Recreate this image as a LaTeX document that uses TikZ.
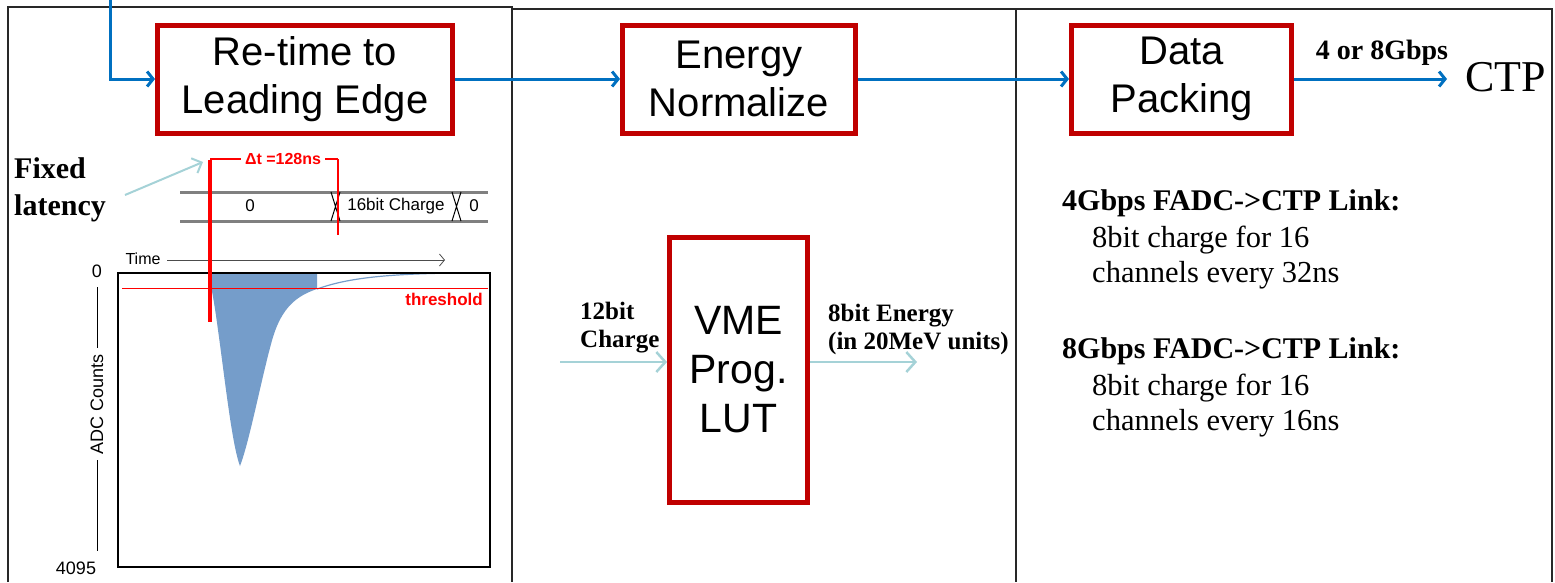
\documentclass[tikz,border=0pt]{standalone}
\usepackage{fontspec}
\setmainfont{Liberation Serif}
\setsansfont{Liberation Sans}
\usetikzlibrary{arrows.meta}
\definecolor{flowblue}{RGB}{0,112,192}
\definecolor{boxred}{RGB}{192,0,0}
\definecolor{hintteal}{RGB}{165,210,215}
\definecolor{pulseblue}{RGB}{117,157,202}
\definecolor{tred}{RGB}{255,0,0}
\definecolor{busgray}{RGB}{128,128,128}
\definecolor{panelgray}{RGB}{40,40,40}
\begin{document}
\begin{tikzpicture}[x=1pt,y=-1pt,
  blockbox/.style={draw=boxred,line width=5pt,fill=white,align=center,inner sep=0pt,
    font=\sffamily\fontsize{40}{48}\selectfont},
  flow/.style={draw=flowblue,line width=3pt,-{Straight Barb[length=6pt,width=15pt]}},
  hint/.style={draw=hintteal,line width=2.5pt,-{Straight Barb[length=9pt,width=20pt]}},
  panel/.style={draw=panelgray,line width=1.5pt},
  serifbold/.style={font=\bfseries\fontsize{25}{28}\selectfont,align=left,inner sep=0pt},
  linktext/.style={anchor=base west,inner sep=0pt,font=\fontsize{30.5}{36}\selectfont},
  linkhead/.style={linktext,font=\bfseries\fontsize{30}{36}\selectfont},
  smallsans/.style={inner sep=0pt,font=\sffamily\fontsize{17}{20}\selectfont},
  redmark/.style={draw=tred}
]
\useasboundingbox (0,0) rectangle (1555,582);

% panels
\draw[panel] (8,582) -- (8,7) -- (512,7) -- (512,582);
\draw[panel] (512,9) -- (1552,9) -- (1552,582);
\draw[panel] (1016,9) -- (1016,582);

% main blocks
\node[blockbox,minimum width=295,minimum height=108] (retime) at (305,79) {Re-time to\\Leading Edge};
\node[blockbox,minimum width=233,minimum height=108] (energy) at (739,79) {Energy\\Normalize};
\node[blockbox,minimum width=220,minimum height=108] (data) at (1181.5,79) {Data\\Packing};
\node[blockbox,minimum width=138,minimum height=265,font=\sffamily\fontsize{41}{49}\selectfont] (vme) at (738.5,370) {VME\\Prog.\\LUT};

% flow connectors
\coordinate (entry) at (110,0);
\draw[flow] (entry) |- (retime.west);
\draw[flow] (retime.east) -- (energy.west);
\draw[flow] (energy.east) -- (data.west);
\node[inner sep=0pt,anchor=west,font=\fontsize{44}{50}\selectfont] (ctp) at (1465,77) {CTP};
\draw[flow,shorten >=18pt] (data.east) -- (data.east -| ctp.west);
\node[inner sep=0pt,font=\bfseries\fontsize{28}{30}\selectfont] (rate) at (1382,53) {4 or 8Gbps};

% LUT in/out
\coordinate (chin) at (560,362);
\coordinate (enout) at (917,362);
\draw[hint] (chin) -- (chin -| vme.west);
\draw[hint] (enout -| vme.east) -- (enout);
\node[serifbold,anchor=west] (chlabel) at (580,328) {12bit\\Charge};
\node[serifbold,anchor=west] (enlabel) at (828,329) {8bit Energy\\(in 20MeV units)};

% right panel text
\node[linkhead] (l4a) at (1062,210) {4Gbps FADC->CTP Link:};
\node[linktext] (l4b) at (1092,247) {8bit charge for 16};
\node[linktext] (l4c) at (1092,282) {channels every 32ns};
\node[linkhead] (l8a) at (1062,358) {8Gbps FADC->CTP Link:};
\node[linktext] (l8b) at (1092,395) {8bit charge for 16};
\node[linktext] (l8c) at (1092,430) {channels every 16ns};

% fixed latency
\node[inner sep=0pt,anchor=west,align=left,font=\bfseries\fontsize{30}{37}\selectfont] (fixed) at (14,190) {Fixed\\latency};
\coordinate (fixA) at (125,195);
\coordinate (fixB) at (203,162);
\draw[hint,line width=2pt,-{Straight Barb[length=8pt,width=16pt]}] (fixA) -- (fixB);

% bus timing
\draw[busgray,line width=3pt] (180,192) -- (488,192);
\draw[busgray,line width=3pt] (180,221) -- (488,221);
\draw[black,line width=1pt] (331,192) -- (340,221) (340,192) -- (331,221);
\draw[black,line width=1pt] (452,192) -- (461,221) (461,192) -- (452,221);
\node[smallsans] (bz1) at (250,206) {0};
\node[smallsans] (bch) at (396,206) {16bit Charge};
\node[smallsans] (bz2) at (474,206) {0};

% pulse
\fill[pulseblue] (208,273) -- (317,273) -- (317,289)
  .. controls (296,296) and (282,308) .. (273,337)
  .. controls (262,375) and (250,440) .. (240,466)
  .. controls (232,445) and (225,380) .. (218,330)
  .. controls (214,300) and (211,285) .. (208,273) -- cycle;
\draw[pulseblue,line width=1.2pt] (317,289) .. controls (345,279) and (380,274) .. (455,273);

% plot frame and axes
\draw[black,line width=1.2pt] (118,273) rectangle (490,567);
\draw[tred,line width=0.8pt] (122,288) -- (488,288);
\node[smallsans,anchor=east,text=tred,font=\sffamily\bfseries\fontsize{17}{20}\selectfont] (thr) at (483,299) {threshold};
\node[smallsans,font=\sffamily\fontsize{16}{20}\selectfont] (timelab) at (143,259) {Time};
\coordinate (timeend) at (445,260);
\draw[black!70,line width=0.8pt,-{Straight Barb[length=5pt,width=12pt]}] (167,260) -- (timeend);
\node[smallsans,font=\sffamily\fontsize{18}{20}\selectfont] (y0) at (97,271) {0};
\node[smallsans,font=\sffamily\fontsize{18}{20}\selectfont] (y4095) at (76,568) {4095};
\node[smallsans,rotate=90,inner sep=6pt,font=\sffamily\fontsize{18}{20}\selectfont] (adc) at (97,404) {ADC Counts};
\draw[black,line width=1pt] (97,287) -- (adc.east);
\draw[black,line width=1pt] (adc.west) -- (97,551);

% red timing markers
\draw[redmark,line width=3.5pt] (210,160) -- (210,322);
\draw[redmark,line width=1.2pt] (210,159) -- (241,159);
\draw[redmark,line width=1.2pt] (325,159) -- (338,159);
\draw[redmark,line width=2.5pt] (338,159) -- (338,235);
\node[smallsans,text=tred,font=\sffamily\bfseries\fontsize{16}{20}\selectfont] (dt) at (283,159) {Δt =128ns};
\end{tikzpicture}
\end{document}
